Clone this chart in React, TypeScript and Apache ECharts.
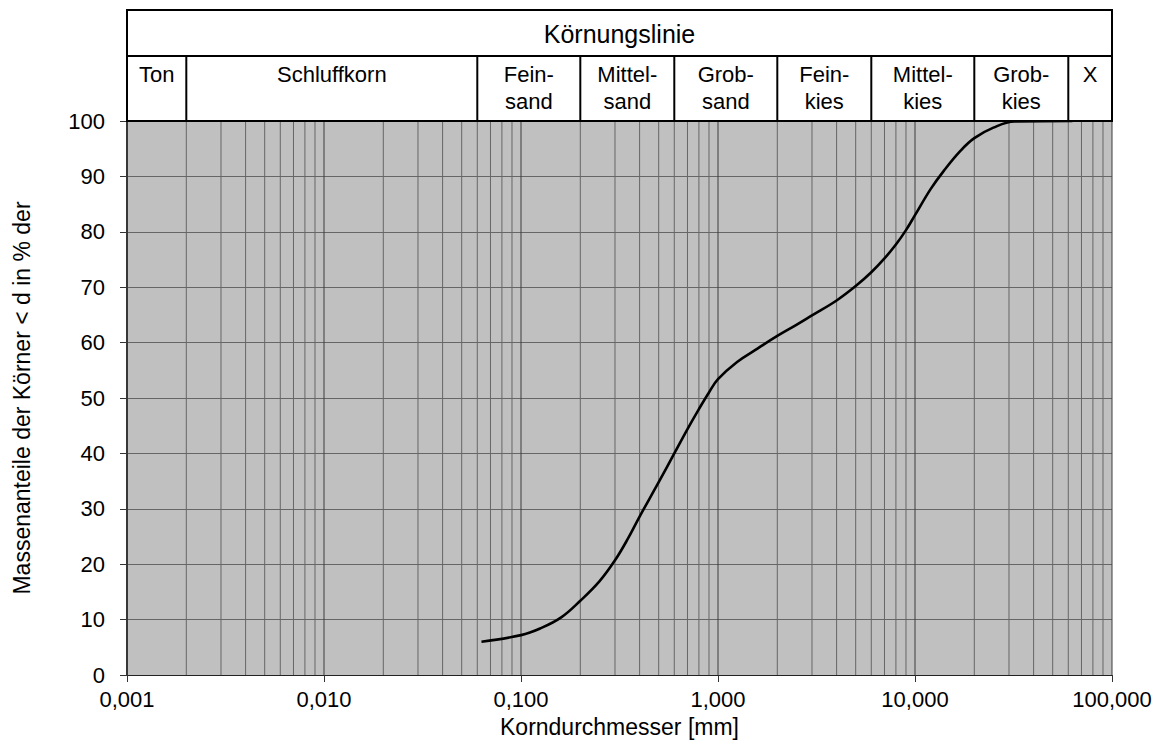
import React, { useEffect, useRef } from "react";
import * as echarts from "echarts";

const FONT = '"Liberation Sans", Arial, sans-serif';

// Grain-size distribution (diameter in mm, passing in %)
const diameters = [0.063, 0.1, 0.125, 0.16, 0.2, 0.25, 0.3, 0.35, 0.4, 0.5, 0.6, 0.7, 0.8, 0.9, 1.0, 1.25, 1.6, 2, 2.5, 3, 4, 5, 6, 7, 8, 9, 10, 12, 14, 17, 20, 25, 32, 63];
const passing = [6.0, 7.2, 8.4, 10.4, 13.4, 16.9, 20.7, 24.7, 28.6, 34.8, 40.0, 44.4, 48.0, 51.0, 53.4, 56.5, 59.0, 61.2, 63.2, 64.9, 67.6, 70.2, 72.7, 75.2, 77.7, 80.3, 83.0, 87.7, 91.0, 94.6, 96.9, 98.8, 99.9, 100];

// Axis
const xMin = 0.001;
const xMax = 100;
const decades = [0.001, 0.01, 0.1, 1, 10];
const multipliers = [1, 2, 3, 4, 5, 6, 7, 8, 9];

// Header classes
const headerTitle = "Körnungslinie";
const classBounds = [0.001, 0.002, 0.06, 0.2, 0.6, 2, 6, 20, 60, 100];
const classLabels = ["Ton", "Schluffkorn", "Fein-\nsand", "Mittel-\nsand", "Grob-\nsand", "Fein-\nkies", "Mittel-\nkies", "Grob-\nkies", "X"];

const xTitle = "Korndurchmesser [mm]";
const yTitle = "Massenanteile der Körner < d in % der";

export default function App() {
  const ref = useRef<HTMLDivElement>(null);

  useEffect(() => {
    if (!ref.current) return;
    const chart = echarts.init(ref.current, null, { renderer: "svg" });

    const gridValues: number[][] = [];
    decades.forEach((d) => multipliers.forEach((m) => gridValues.push([+(d * m).toPrecision(6), 0])));
    gridValues.push([xMax, 0]);

    const curve = diameters.map((d, i) => [d, passing[i]]);

    chart.setOption({
      animation: false,
      grid: {
        left: 127,
        right: 50,
        top: 121,
        bottom: 74,
        show: true,
        backgroundColor: "#c0c0c0",
        borderWidth: 0,
      },
      xAxis: {
        type: "log",
        logBase: 10,
        min: xMin,
        max: xMax,
        name: xTitle,
        nameLocation: "middle",
        nameGap: 40,
        nameTextStyle: { fontFamily: FONT, fontSize: 23, color: "#000" },
        axisLine: { show: true, lineStyle: { color: "#222", width: 1 } },
        axisTick: { show: true, length: 7, lineStyle: { color: "#333" } },
        splitLine: { show: false },
        axisLabel: {
          fontFamily: FONT,
          fontSize: 22,
          color: "#000",
          margin: 13,
          formatter: (v: number) => v.toFixed(3).replace(".", ","),
        },
      },
      yAxis: {
        type: "value",
        min: 0,
        max: 100,
        interval: 10,
        name: yTitle,
        nameLocation: "middle",
        nameGap: 94,
        nameRotate: 90,
        nameTextStyle: { fontFamily: FONT, fontSize: 23, color: "#000" },
        axisLine: { show: true, lineStyle: { color: "#333", width: 2 } },
        axisTick: { show: true, length: 7, lineStyle: { color: "#333" } },
        splitLine: { show: true, lineStyle: { color: "#666", width: 1 } },
        axisLabel: { fontFamily: FONT, fontSize: 22, color: "#000", margin: 22 },
      },
      series: [
        {
          type: "custom",
          data: gridValues,
          encode: { x: 0, y: 1 },
          silent: true,
          z: 1,
          renderItem: (params: any, api: any) => {
            const v = api.value(0);
            const p1 = api.coord([v, 0]);
            const p2 = api.coord([v, 100]);
            const lg = Math.log10(v);
            const isDecade = Math.abs(lg - Math.round(lg)) < 1e-6;
            return {
              type: "line",
              shape: { x1: p1[0], y1: p1[1], x2: p2[0], y2: p2[1] },
              style: { stroke: isDecade ? "#3c3c3c" : "#666", lineWidth: 1 },
            };
          },
        },
        {
          type: "line",
          data: curve,
          smooth: 0.4,
          symbol: "none",
          z: 5,
          lineStyle: { color: "#000", width: 2.6 },
        },
      ],
    });

    const px = (v: number) => chart.convertToPixel({ xAxisIndex: 0 }, v) as number;
    const left = px(xMin);
    const right = px(xMax);
    const top = 10;
    const mid = 56;
    const bottom = 121;
    const stroke = { stroke: "#000", lineWidth: 2, fill: null };
    const elements: any[] = [
      { type: "rect", shape: { x: left, y: top, width: right - left, height: bottom - top }, style: { fill: "#fff", stroke: "#000", lineWidth: 2 }, z: 10 },
      { type: "line", shape: { x1: left, y1: mid, x2: right, y2: mid }, style: stroke, z: 11 },
      {
        type: "text",
        x: (left + right) / 2,
        y: (top + mid) / 2 + 1,
        style: { text: headerTitle, font: `25px ${FONT}`, fill: "#000", align: "center", verticalAlign: "middle" },
        z: 12,
      },
    ];
    classBounds.slice(1, -1).forEach((b) => {
      const x = px(b);
      elements.push({ type: "line", shape: { x1: x, y1: mid, x2: x, y2: bottom }, style: stroke, z: 11 });
    });
    classLabels.forEach((lab, i) => {
      const cx = (px(classBounds[i]) + px(classBounds[i + 1])) / 2;
      elements.push({
        type: "text",
        x: cx,
        y: 61,
        style: { text: lab, font: `22px ${FONT}`, fill: "#000", align: "center", verticalAlign: "top", lineHeight: 27 },
        z: 12,
      });
    });
    chart.setOption({ graphic: { elements } });

    return () => chart.dispose();
  }, []);

  return (
    <div
      ref={ref}
      style={{ position: "fixed", left: 0, top: 0, width: 1162, height: 749, background: "#fff" }}
    />
  );
}
